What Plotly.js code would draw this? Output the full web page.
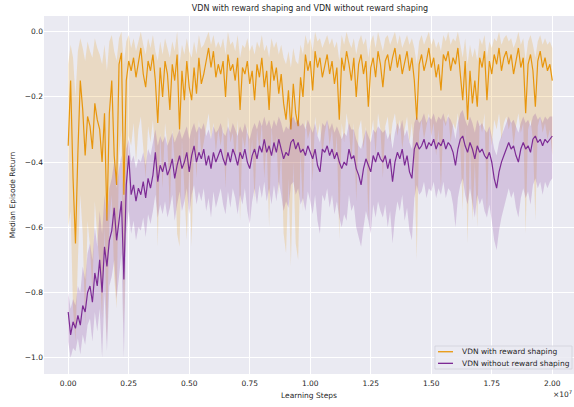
<!DOCTYPE html>
<html>
<head>
<meta charset="utf-8">
<script src="https://cdn.plot.ly/plotly-3.0.1.min.js"></script>
<style>html,body{margin:0;padding:0;background:#fff;}#chart{width:574px;height:407px;}</style>
</head>
<body>
<div id="chart"></div>
<script>
// Learning steps: one logged point every 1e5 steps, 0 .. 2e7
const stepCount = 201;
const stepSize = 100000;
const steps = Array.from({length: stepCount}, (_, i) => i * stepSize);

const xTickVals = [0, 2500000, 5000000, 7500000, 10000000, 12500000, 15000000, 17500000, 20000000];
const xTickText = ['0.00','0.25','0.50','0.75','1.00','1.25','1.50','1.75','2.00'];
const yTickVals = [-1.0, -0.8, -0.6, -0.4, -0.2, 0.0];

const seriesNames = ['VDN with reward shaping', 'VDN without reward shaping'];

// VDN with reward shaping: median line
const shapedMedian = [
-0.35,-0.15,-0.45,-0.65,-0.37,-0.15,-0.24,-0.38,-0.26,-0.29,
-0.36,-0.22,-0.27,-0.30,-0.40,-0.25,-0.58,-0.25,-0.15,-0.38,
-0.47,-0.10,-0.065,-0.50,-0.15,-0.09,-0.12,-0.08,-0.14,-0.10,
-0.05,-0.13,-0.17,-0.09,-0.12,-0.07,-0.15,-0.28,-0.11,-0.20,
-0.09,-0.13,-0.24,-0.10,-0.15,-0.07,-0.30,-0.12,-0.21,-0.09,
-0.17,-0.21,-0.11,-0.19,-0.08,-0.16,-0.13,-0.09,-0.05,-0.11,
-0.06,-0.14,-0.10,-0.13,-0.09,-0.20,-0.07,-0.12,-0.10,-0.15,
-0.08,-0.24,-0.11,-0.13,-0.09,-0.16,-0.12,-0.21,-0.10,-0.14,
-0.08,-0.17,-0.12,-0.24,-0.09,-0.15,-0.11,-0.19,-0.13,-0.22,
-0.27,-0.18,-0.30,-0.16,-0.25,-0.29,-0.14,-0.20,-0.07,-0.12,
-0.09,-0.18,-0.06,-0.11,-0.08,-0.14,-0.10,-0.07,-0.13,-0.09,
-0.16,-0.11,-0.27,-0.08,-0.12,-0.06,-0.10,-0.15,-0.08,-0.20,
-0.10,-0.07,-0.13,-0.09,-0.23,-0.11,-0.08,-0.14,-0.06,-0.10,
-0.17,-0.09,-0.07,-0.12,-0.08,-0.05,-0.11,-0.07,-0.13,-0.09,
-0.06,-0.12,-0.08,-0.15,-0.27,-0.10,-0.07,-0.12,-0.09,-0.05,
-0.11,-0.08,-0.14,-0.10,-0.18,-0.07,-0.09,-0.06,-0.12,-0.08,
-0.10,-0.05,-0.13,-0.21,-0.09,-0.27,-0.12,-0.22,-0.15,-0.23,
-0.08,-0.11,-0.06,-0.21,-0.09,-0.13,-0.07,-0.10,-0.05,-0.12,
-0.08,-0.06,-0.10,-0.07,-0.13,-0.09,-0.05,-0.11,-0.08,-0.25,
-0.10,-0.07,-0.12,-0.23,-0.09,-0.06,-0.11,-0.08,-0.12,-0.10,
-0.15
];
const shapedUpper = [
-0.10,-0.04,-0.08,-0.20,-0.06,-0.02,-0.05,-0.09,-0.03,-0.06,
-0.08,-0.02,-0.05,-0.07,-0.10,-0.04,-0.12,-0.03,-0.01,-0.06,
-0.09,-0.02,0.0,-0.10,-0.03,-0.01,-0.05,-0.02,-0.06,-0.03,
0.0,-0.04,-0.07,-0.02,-0.05,-0.01,-0.06,-0.09,-0.03,-0.07,
-0.02,-0.05,-0.08,-0.03,-0.06,0.0,-0.10,-0.04,-0.07,-0.02,
-0.06,-0.08,-0.03,-0.07,-0.01,-0.05,-0.04,-0.02,0.0,-0.04,
-0.01,-0.05,-0.03,-0.05,-0.02,-0.07,0.0,-0.04,-0.03,-0.06,
-0.01,-0.08,-0.04,-0.05,-0.02,-0.06,-0.04,-0.07,-0.03,-0.05,
-0.01,-0.06,-0.04,-0.08,-0.02,-0.05,-0.03,-0.07,-0.04,-0.08,
-0.10,-0.06,-0.11,-0.05,-0.09,-0.10,-0.04,-0.07,-0.01,-0.04,
-0.02,-0.06,0.0,-0.03,-0.02,-0.05,-0.03,-0.01,-0.04,-0.02,
-0.05,-0.03,-0.09,-0.01,-0.04,0.0,-0.03,-0.05,-0.02,-0.07,
-0.03,-0.01,-0.04,-0.02,-0.08,-0.03,-0.01,-0.05,0.0,-0.03,
-0.06,-0.02,-0.01,-0.04,-0.02,0.0,-0.04,-0.01,-0.05,-0.03,
-0.01,-0.04,-0.02,-0.05,-0.10,-0.03,-0.01,-0.04,-0.02,0.0,
-0.04,-0.02,-0.05,-0.03,-0.06,-0.01,-0.03,0.0,-0.04,-0.02,
-0.03,0.0,-0.04,-0.08,-0.02,-0.10,-0.04,-0.08,-0.05,-0.09,
-0.02,-0.04,-0.01,-0.08,-0.03,-0.05,-0.02,-0.03,0.0,-0.04,
-0.02,-0.01,-0.03,-0.02,-0.05,-0.03,0.0,-0.04,-0.02,-0.09,
-0.03,-0.01,-0.04,-0.08,-0.03,-0.01,-0.04,-0.02,-0.04,-0.03,
-0.05
];
const shapedLower = [
-0.60,-0.55,-0.85,-0.95,-0.70,-0.50,-0.62,-0.90,-0.58,-0.66,
-0.80,-0.52,-0.63,-0.72,-0.88,-0.60,-0.95,-0.58,-0.50,-0.75,
-0.85,-0.38,-0.30,-0.90,-0.45,-0.32,-0.35,-0.28,-0.40,-0.30,
-0.26,-0.36,-0.45,-0.29,-0.34,-0.27,-0.38,-0.66,-0.31,-0.48,
-0.28,-0.35,-0.55,-0.30,-0.40,-0.62,-0.66,-0.33,-0.50,-0.64,
-0.42,-0.66,-0.32,-0.45,-0.27,-0.38,-0.34,-0.29,-0.25,-0.33,
-0.28,-0.37,-0.30,-0.35,-0.29,-0.48,-0.26,-0.34,-0.31,-0.40,
-0.27,-0.58,-0.32,-0.36,-0.29,-0.42,-0.33,-0.52,-0.30,-0.37,
-0.28,-0.45,-0.33,-0.60,-0.29,-0.39,-0.32,-0.50,-0.36,-0.62,
-0.68,-0.45,-0.72,-0.40,-0.65,-0.70,-0.37,-0.55,-0.27,-0.33,
-0.30,-0.46,-0.26,-0.32,-0.28,-0.38,-0.31,-0.27,-0.35,-0.30,
-0.40,-0.32,-0.64,-0.28,-0.34,-0.25,-0.30,-0.40,-0.28,-0.52,
-0.30,-0.27,-0.36,-0.29,-0.58,-0.32,-0.27,-0.38,-0.25,-0.30,
-0.45,-0.29,-0.26,-0.34,-0.28,-0.25,-0.32,-0.27,-0.36,-0.30,
-0.26,-0.34,-0.28,-0.40,-0.70,-0.31,-0.27,-0.33,-0.29,-0.25,
-0.32,-0.28,-0.38,-0.30,-0.48,-0.27,-0.29,-0.25,-0.34,-0.28,
-0.30,-0.25,-0.35,-0.55,-0.29,-0.65,-0.33,-0.58,-0.40,-0.60,
-0.27,-0.31,-0.25,-0.56,-0.29,-0.35,-0.27,-0.30,-0.25,-0.33,
-0.28,-0.26,-0.30,-0.27,-0.35,-0.29,-0.25,-0.31,-0.28,-0.62,
-0.30,-0.27,-0.33,-0.58,-0.29,-0.26,-0.31,-0.28,-0.33,-0.30,
-0.38
];

// VDN without reward shaping
const plainMedian = [
-0.86,-0.93,-0.89,-0.91,-0.87,-0.90,-0.84,-0.86,-0.80,-0.78,
-0.83,-0.74,-0.78,-0.70,-0.80,-0.66,-0.72,-0.64,-0.61,-0.54,
-0.64,-0.57,-0.52,-0.76,-0.47,-0.38,-0.50,-0.47,-0.52,-0.48,
-0.50,-0.46,-0.51,-0.45,-0.48,-0.44,-0.37,-0.46,-0.41,-0.43,
-0.40,-0.44,-0.42,-0.39,-0.45,-0.41,-0.38,-0.42,-0.40,-0.37,
-0.43,-0.38,-0.35,-0.40,-0.37,-0.39,-0.36,-0.41,-0.38,-0.42,
-0.37,-0.40,-0.38,-0.36,-0.39,-0.41,-0.37,-0.40,-0.36,-0.38,
-0.41,-0.37,-0.39,-0.36,-0.40,-0.42,-0.38,-0.36,-0.39,-0.35,
-0.37,-0.33,-0.37,-0.35,-0.38,-0.34,-0.37,-0.33,-0.36,-0.39,
-0.37,-0.38,-0.34,-0.33,-0.36,-0.34,-0.37,-0.36,-0.38,-0.35,
-0.37,-0.39,-0.36,-0.41,-0.43,-0.36,-0.37,-0.35,-0.38,-0.36,
-0.39,-0.37,-0.40,-0.42,-0.40,-0.41,-0.36,-0.39,-0.38,-0.42,
-0.44,-0.47,-0.42,-0.39,-0.41,-0.43,-0.38,-0.40,-0.37,-0.39,
-0.40,-0.38,-0.42,-0.39,-0.46,-0.40,-0.37,-0.39,-0.36,-0.41,
-0.38,-0.43,-0.45,-0.36,-0.34,-0.36,-0.35,-0.33,-0.36,-0.34,
-0.35,-0.33,-0.36,-0.34,-0.35,-0.33,-0.36,-0.34,-0.35,-0.37,
-0.41,-0.36,-0.33,-0.32,-0.35,-0.37,-0.34,-0.36,-0.39,-0.35,
-0.37,-0.36,-0.38,-0.39,-0.37,-0.40,-0.45,-0.48,-0.43,-0.40,
-0.38,-0.36,-0.34,-0.36,-0.35,-0.38,-0.40,-0.36,-0.34,-0.36,
-0.35,-0.37,-0.33,-0.32,-0.34,-0.33,-0.35,-0.33,-0.34,-0.33,
-0.32
];
const plainUpper = [
-0.80,-0.85,-0.82,-0.84,-0.78,-0.80,-0.72,-0.76,-0.68,-0.65,
-0.70,-0.60,-0.66,-0.55,-0.62,-0.50,-0.58,-0.48,-0.45,-0.40,
-0.48,-0.42,-0.38,-0.52,-0.36,-0.33,-0.40,-0.38,-0.42,-0.39,
-0.40,-0.37,-0.41,-0.36,-0.38,-0.34,-0.30,-0.35,-0.32,-0.34,
-0.32,-0.35,-0.33,-0.31,-0.34,-0.32,-0.30,-0.33,-0.31,-0.29,
-0.33,-0.30,-0.28,-0.31,-0.29,-0.30,-0.28,-0.32,-0.30,-0.33,
-0.29,-0.31,-0.30,-0.28,-0.31,-0.32,-0.29,-0.31,-0.28,-0.30,
-0.32,-0.29,-0.31,-0.28,-0.31,-0.33,-0.30,-0.28,-0.30,-0.27,
-0.29,-0.26,-0.29,-0.27,-0.30,-0.27,-0.29,-0.26,-0.28,-0.31,
-0.29,-0.30,-0.27,-0.26,-0.28,-0.27,-0.29,-0.28,-0.30,-0.27,
-0.29,-0.31,-0.28,-0.32,-0.34,-0.28,-0.29,-0.27,-0.30,-0.28,
-0.31,-0.29,-0.31,-0.33,-0.31,-0.32,-0.28,-0.30,-0.30,-0.33,
-0.35,-0.36,-0.33,-0.30,-0.32,-0.34,-0.30,-0.31,-0.29,-0.30,
-0.31,-0.30,-0.33,-0.31,-0.36,-0.31,-0.28,-0.30,-0.27,-0.32,
-0.30,-0.34,-0.36,-0.28,-0.26,-0.28,-0.27,-0.25,-0.28,-0.26,
-0.27,-0.25,-0.28,-0.26,-0.27,-0.25,-0.28,-0.26,-0.27,-0.29,
-0.33,-0.28,-0.25,-0.24,-0.27,-0.29,-0.26,-0.28,-0.31,-0.27,
-0.29,-0.28,-0.30,-0.31,-0.29,-0.32,-0.36,-0.38,-0.34,-0.32,
-0.30,-0.28,-0.26,-0.28,-0.27,-0.29,-0.31,-0.28,-0.26,-0.28,
-0.27,-0.29,-0.26,-0.25,-0.27,-0.26,-0.28,-0.26,-0.27,-0.26,
-0.26
];
const plainLower = [
-0.95,-1.00,-0.97,-0.98,-0.94,-0.99,-0.93,-0.96,-0.90,-0.88,
-0.95,-0.86,-0.92,-0.85,-1.00,-0.80,-0.98,-0.78,-0.75,-0.70,
-0.82,-0.74,-0.68,-1.00,-0.62,-0.55,-0.62,-0.58,-0.64,-0.60,
-0.61,-0.57,-0.63,-0.56,-0.59,-0.55,-0.50,-0.57,-0.53,-0.56,
-0.52,-0.57,-0.54,-0.50,-0.58,-0.53,-0.49,-0.55,-0.52,-0.48,
-0.56,-0.50,-0.47,-0.53,-0.49,-0.52,-0.48,-0.55,-0.51,-0.57,
-0.49,-0.54,-0.51,-0.48,-0.53,-0.56,-0.49,-0.54,-0.48,-0.51,
-0.56,-0.50,-0.53,-0.48,-0.55,-0.59,-0.52,-0.48,-0.53,-0.47,
-0.51,-0.46,-0.52,-0.48,-0.53,-0.47,-0.52,-0.46,-0.50,-0.55,
-0.52,-0.54,-0.47,-0.46,-0.50,-0.48,-0.53,-0.51,-0.55,-0.49,
-0.52,-0.56,-0.50,-0.58,-0.62,-0.50,-0.52,-0.48,-0.54,-0.50,
-0.56,-0.52,-0.57,-0.60,-0.56,-0.58,-0.50,-0.55,-0.53,-0.60,
-0.63,-0.66,-0.60,-0.55,-0.58,-0.62,-0.53,-0.57,-0.52,-0.55,
-0.57,-0.53,-0.60,-0.55,-0.65,-0.57,-0.52,-0.55,-0.50,-0.58,
-0.54,-0.61,-0.64,-0.51,-0.47,-0.50,-0.49,-0.46,-0.51,-0.48,
-0.49,-0.46,-0.51,-0.48,-0.50,-0.46,-0.51,-0.48,-0.49,-0.53,
-0.60,-0.51,-0.47,-0.45,-0.50,-0.53,-0.48,-0.52,-0.57,-0.50,
-0.53,-0.51,-0.55,-0.57,-0.53,-0.58,-0.64,-0.67,-0.61,-0.57,
-0.54,-0.51,-0.48,-0.51,-0.49,-0.54,-0.57,-0.51,-0.48,-0.51,
-0.49,-0.53,-0.47,-0.45,-0.48,-0.46,-0.50,-0.46,-0.48,-0.46,
-0.45
];

const orange = '#E8960C';
const purple = '#7D2B95';
const font = 'DejaVu Sans, Liberation Sans, sans-serif';
const txt = '#262626';

function band(upper, lower, fill) {
  return [
    {x: steps, y: upper, type: 'scatter', mode: 'lines', line: {width: 0, color: fill}, hoverinfo: 'skip', showlegend: false},
    {x: steps, y: lower, type: 'scatter', mode: 'lines', line: {width: 0, color: fill}, fill: 'tonexty', fillcolor: fill, hoverinfo: 'skip', showlegend: false}
  ];
}

const data = [
  ...band(shapedUpper, shapedLower, 'rgba(232,150,12,0.2)'),
  {x: steps, y: shapedMedian, type: 'scatter', mode: 'lines', name: seriesNames[0], showlegend: false, line: {color: orange, width: 1.2}},
  ...band(plainUpper, plainLower, 'rgba(125,43,149,0.2)'),
  {x: steps, y: plainMedian, type: 'scatter', mode: 'lines', name: seriesNames[1], showlegend: false, line: {color: purple, width: 1.2}}
];

// legend drawn in paper coordinates (plot area: x 44..574 px, y 16..374 px)
const lgX0 = 0.7377, lgX1 = 0.9962, lgY0 = 0.014, lgY1 = 0.0782;
const lgRows = [0.0622, 0.0298];
const lgColors = [orange, purple];

const shapes = [
  {type: 'rect', xref: 'paper', yref: 'paper', x0: lgX0, x1: lgX1, y0: lgY0, y1: lgY1,
   fillcolor: 'rgba(234,234,242,0.85)', line: {color: '#d2d2da', width: 0.8}, layer: 'above'}
];
const annotations = [];
seriesNames.forEach((name, k) => {
  shapes.push({type: 'line', xref: 'paper', yref: 'paper', x0: 0.7434, x1: 0.7717, y0: lgRows[k], y1: lgRows[k],
               line: {color: lgColors[k], width: 1.3}, layer: 'above'});
  annotations.push({xref: 'paper', yref: 'paper', x: 0.784, y: lgRows[k], xanchor: 'left', yanchor: 'middle',
                    text: name, showarrow: false, font: {family: font, size: 7.5, color: txt}});
});
annotations.push({
  xref: 'paper', yref: 'paper', x: 1.0, y: -0.055, xanchor: 'right', yanchor: 'middle',
  text: '×10<sup>7</sup>', showarrow: false, font: {family: font, size: 7.5, color: txt}
});

const layout = {
  width: 574, height: 407,
  margin: {l: 44, r: 0, t: 16, b: 33, pad: 0},
  paper_bgcolor: '#ffffff',
  plot_bgcolor: '#EAEAF2',
  font: {family: font, size: 7.5, color: txt},
  title: {text: 'VDN with reward shaping and VDN without reward shaping', font: {family: font, size: 8, color: txt}, x: 0.54, xanchor: 'center', y: 0.98, yanchor: 'middle'},
  xaxis: {
    range: [-1000000, 20897000],
    tickvals: xTickVals, ticktext: xTickText,
    showgrid: true, gridcolor: '#ffffff', gridwidth: 1,
    zeroline: false, showline: false, ticks: '',
    ticklabelstandoff: 3,
    tickfont: {family: font, size: 7.5, color: txt},
    title: {text: 'Learning Steps', font: {family: font, size: 7.5, color: txt}, standoff: 6}
  },
  yaxis: {
    range: [-1.05, 0.048],
    tickvals: yTickVals, tickformat: '.1f',
    showgrid: true, gridcolor: '#ffffff', gridwidth: 1,
    zeroline: false, showline: false, ticks: '',
    tickfont: {family: font, size: 7.5, color: txt},
    title: {text: 'Median Episode Return', font: {family: font, size: 7.5, color: txt}, standoff: 8}
  },
  showlegend: false,
  shapes: shapes,
  annotations: annotations
};

Plotly.newPlot('chart', data, layout, {displayModeBar: false, staticPlot: true});
</script>
</body>
</html>
